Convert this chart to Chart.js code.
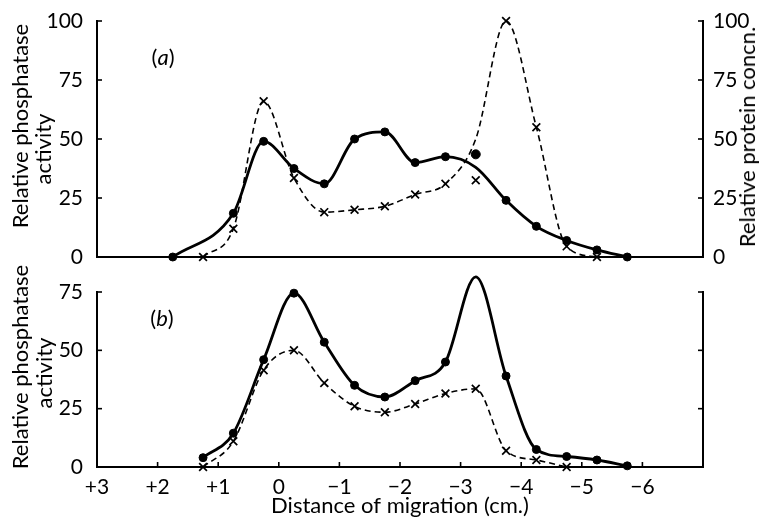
<!DOCTYPE html>
<html>
<head>
<meta charset="utf-8">
<script src="https://cdn.jsdelivr.net/npm/chart.js@4/dist/chart.umd.min.js"></script>
<style>
  body { margin: 0; background: #fff; }
  #wrap { position: relative; width: 759px; height: 519px; overflow: hidden; font-family: Lato, "Open Sans", sans-serif; color: #000; }
  canvas { position: absolute; left: 0; }
  .txt { position: absolute; font-size: 22px; line-height: 1; white-space: nowrap; }
  .rot { transform: translate(-50%, -50%) rotate(-90deg); }
  .ctr { transform: translate(-50%, -50%); }
</style>
</head>
<body>
<div id="wrap">
  <canvas id="chartA" width="759" height="280" style="top:0"></canvas>
  <canvas id="chartB" width="759" height="257" style="top:262px"></canvas>

  <div class="txt rot" style="left:20px; top:126px">Relative phosphatase</div>
  <div class="txt rot" style="left:43px; top:149px">activity</div>
  <div class="txt rot" style="left:747px; top:137px">Relative protein concn.</div>
  <div class="txt ctr" style="left:163px; top:57px">(<i>a</i>)</div>

  <div class="txt rot" style="left:20px; top:367px">Relative phosphatase</div>
  <div class="txt rot" style="left:44px; top:373px">activity</div>
  <div class="txt ctr" style="left:162px; top:318px">(<i>b</i>)</div>
</div>

<script>
// distance of migration (cm.), readings every 0.5 cm

// (a) relative phosphatase activity (filled circles, solid curve)
const xActA = [1.75, 0.75, 0.25, -0.25, -0.75, -1.25, -1.75, -2.25, -2.75, -3.25, -3.75, -4.25, -4.75, -5.25, -5.75];
const actA  = [0, 18.5, 49, 37.5, 31, 50, 53, 40, 42.5, 38, 24, 13, 7, 3, 0];
// (a) relative protein concn. (crosses, dashed curve)
const xProtA = [1.25, 0.75, 0.25, -0.25, -0.75, -1.25, -1.75, -2.25, -2.75, -3.25, -3.75, -4.25, -4.75, -5.25];
const protA  = [0, 12, 66, 33.5, 19, 20, 21.5, 26.5, 31, 50, 100, 55, 4.5, 0];
// (a) readings plotted away from the drawn curves
const xStrayA    = [-3.25];
const actStrayA  = [43.5];
const protStrayA = [32.5];

// (b) relative phosphatase activity, two series
const xActB = [1.25, 0.75, 0.25, -0.25, -0.75, -1.25, -1.75, -2.25, -2.75, -3.25, -3.75, -4.25, -4.75, -5.25, -5.75];
const actB  = [4, 14.5, 46, 74.5, 53.5, 35, 30, 37, 45, 81.5, 39, 7.5, 4.5, 3, 0.5];
const xProtB = [1.25, 0.75, 0.25, -0.25, -0.75, -1.25, -1.75, -2.25, -2.75, -3.25, -3.75, -4.25, -4.75];
const protB  = [0, 11, 41.5, 50, 36, 26, 23.5, 27, 31.5, 33.5, 7, 3, 0];

const xTicks = [3, 2, 1, 0, -1, -2, -3, -4, -5, -6];
const xTickLabels = ['+3', '+2', '+1', '0', '\u22121', '\u22122', '\u22123', '\u22124', '\u22125', '\u22126'];
const yTicksA = [0, 25, 50, 75, 100];
const yTicksB = [0, 25, 50, 75];

const FONT = { family: 'Lato, "Open Sans", sans-serif', size: 21 };
const TITLE_FONT = { family: 'Lato, "Open Sans", sans-serif', size: 22 };

function pts(xs, ys) {
    return xs.map((x, i) => ({ x: x, y: ys[i] }));
}

// short tick marks pointing into the plot
const inwardTicks = {
    id: 'inwardTicks',
    afterDatasetsDraw(chart, args, opts) {
        const { ctx, chartArea: a } = chart;
        ctx.save();
        ctx.strokeStyle = '#000';
        ctx.lineWidth = 1.6;
        (opts.axes || []).forEach(id => {
            const s = chart.scales[id];
            s.ticks.forEach(t => {
                const p = s.getPixelForValue(t.value);
                ctx.beginPath();
                if (s.isHorizontal()) {
                    ctx.moveTo(p, a.bottom); ctx.lineTo(p, a.bottom - opts.len);
                } else if (s.position === 'left') {
                    ctx.moveTo(a.left, p); ctx.lineTo(a.left + opts.len, p);
                } else {
                    ctx.moveTo(a.right, p); ctx.lineTo(a.right - opts.len, p);
                }
                ctx.stroke();
            });
        });
        ctx.restore();
    }
};

function curve(xs, ys, opts) {
    const skip = opts.skip || [];
    return Object.assign({
        data: pts(xs, ys),
        showLine: true,
        cubicInterpolationMode: 'monotone',
        borderColor: '#000',
        backgroundColor: '#000',
        pointBorderColor: '#000',
        pointBackgroundColor: '#000',
        clip: false,
        pointRadius: c => skip.includes(xs[c.dataIndex]) ? 0 : opts.r
    }, opts.style);
}

const solid = { borderWidth: 2.8, pointStyle: 'circle', pointBorderWidth: 1 };
const dashed = { borderWidth: 1.6, borderDash: [6, 4], pointStyle: 'crossRot', pointBorderWidth: 1.7 };

function yAxis(pos, ticks, max, showLabels, width) {
    return {
        type: 'linear',
        position: pos,
        min: 0,
        max: max,
        afterBuildTicks: s => { s.ticks = ticks.map(v => ({ value: v })); },
        afterFit: s => { s.width = width; },
        ticks: { display: showLabels, color: '#000', font: FONT, padding: pos === 'left' ? 6 : 2 },
        grid: { display: false },
        border: { display: true, color: '#000', width: 2 }
    };
}

function xAxis(showLabels, height) {
    return {
        type: 'linear',
        reverse: true,
        min: -7,
        max: 3,
        afterBuildTicks: s => { s.ticks = xTicks.map(v => ({ value: v })); },
        afterFit: s => { s.height = height; },
        ticks: {
            display: showLabels,
            color: '#000',
            font: FONT,
            padding: 0,
            maxRotation: 0,
            autoSkip: false,
            callback: v => xTickLabels[xTicks.indexOf(v)]
        },
        grid: { display: false },
        border: { display: true, color: '#000', width: 2 },
        title: {
            display: showLabels,
            text: 'Distance of migration (cm.)',
            color: '#000',
            font: TITLE_FONT,
            padding: { top: 0, bottom: 0 }
        }
    };
}

const common = {
    responsive: false,
    animation: false,
    events: [],
    plugins: { legend: { display: false }, tooltip: { enabled: false } }
};

new Chart(document.getElementById('chartA'), {
    type: 'scatter',
    data: {
        datasets: [
            curve(xActA, actA, { r: 4, skip: xStrayA, style: Object.assign({ yAxisID: 'y' }, solid) }),
            curve(xProtA, protA, { r: 5.5, skip: xStrayA, style: Object.assign({ yAxisID: 'y2' }, dashed) }),
            { data: pts(xStrayA, actStrayA), yAxisID: 'y', pointStyle: 'circle', pointRadius: 4.5,
              backgroundColor: '#000', borderColor: '#000', clip: false },
            { data: pts(xStrayA, protStrayA), yAxisID: 'y2', pointStyle: 'crossRot', pointRadius: 5.5,
              borderWidth: 1.7, borderColor: '#000', clip: false }
        ]
    },
    options: Object.assign({}, common, {
        layout: { padding: { top: 21, bottom: 23, left: 0, right: 0 } },
        scales: {
            x: xAxis(false, 0),
            y: yAxis('left', yTicksA, 100, true, 97),
            y2: yAxis('right', yTicksA, 100, true, 56)
        },
        plugins: Object.assign({}, common.plugins, { inwardTicks: { axes: ['y', 'y2'], len: 5 } })
    }),
    plugins: [inwardTicks]
});

new Chart(document.getElementById('chartB'), {
    type: 'scatter',
    data: {
        datasets: [
            curve(xActB, actB, { r: 4, style: Object.assign({ yAxisID: 'y' }, solid) }),
            curve(xProtB, protB, { r: 5.5, style: Object.assign({ yAxisID: 'y' }, dashed) })
        ]
    },
    options: Object.assign({}, common, {
        layout: { padding: { top: 30, bottom: 0, left: 0, right: 0 } },
        scales: {
            x: xAxis(true, 52),
            y: yAxis('left', yTicksB, 75, true, 97),
            y2: yAxis('right', yTicksB, 75, false, 56)
        },
        plugins: Object.assign({}, common.plugins, { inwardTicks: { axes: ['x', 'y', 'y2'], len: 5 } })
    }),
    plugins: [inwardTicks]
});
</script>
</body>
</html>
